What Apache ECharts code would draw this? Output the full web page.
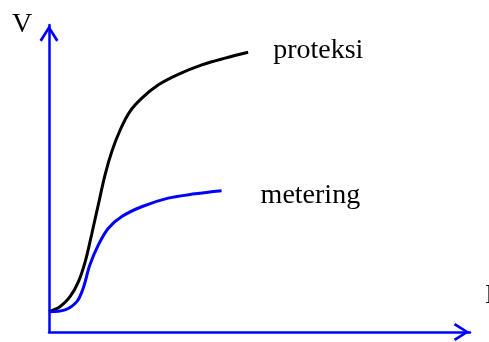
<!DOCTYPE html>
<html>
<head>
<meta charset="utf-8">
<script src="https://cdn.jsdelivr.net/npm/echarts@6/dist/echarts.min.js"></script>
<style>
  html, body { margin: 0; padding: 0; background: #fff; }
  #chart { width: 489px; height: 342px; }
</style>
</head>
<body>
<div id="chart"></div>
<script>
// values, I and V on a 0..100 scale
var proteksiI = [0, 2.6, 5.0, 7.0, 8.6, 10.1, 11.7, 13.3, 14.9, 16.9, 19.2, 22.0, 26.0, 30.7, 36.3, 41.8, 47.3];
var proteksiV = [6.6, 8.2, 11.5, 16.4, 22.9, 31.6, 41.4, 51.1, 58.7, 65.8, 71.8, 76.1, 80.5, 83.9, 87.0, 89.2, 91.1];
var meteringI = [0, 3.8, 6.6, 8.1, 9.7, 11.7, 14.1, 17.3, 22.0, 28.3, 34.7, 41.0];
var meteringV = [6.6, 7.2, 9.9, 14.2, 21.8, 28.3, 33.8, 37.6, 40.8, 43.6, 45.0, 46.0];

function pairs(xs, ys) {
  var out = [];
  for (var i = 0; i < xs.length; i++) {
    out.push([xs[i], ys[i]]);
  }
  return out;
}

// open chevron used as the axis arrow head (points up before rotation)
var chevron = "path://M0,15.5 L10,0 L20,15.5 L17.6,17.5 L10,5 L2.4,17.5 Z";
var blue = "#0000ff";
var font = "28px 'Liberation Serif', 'Times New Roman', serif";

var dom = echarts.init(document.getElementById("chart"));
var option = {
  animation: false,
  grid: { left: 49, right: 19, top: 25, bottom: 10 },
  xAxis: {
    type: "value",
    min: 0,
    max: 100,
    axisLine: {
      lineStyle: { color: blue, width: 2.5 },
      symbol: ["none", chevron],
      symbolSize: [18, 17],
      symbolOffset: [0, -8.5]
    },
    axisTick: { show: false },
    axisLabel: { show: false },
    splitLine: { show: false }
  },
  yAxis: {
    type: "value",
    min: 0,
    max: 100,
    axisLine: {
      lineStyle: { color: blue, width: 2.5 },
      symbol: ["none", chevron],
      symbolSize: [19, 17],
      symbolOffset: [0, -8.5]
    },
    axisTick: { show: false },
    axisLabel: { show: false },
    splitLine: { show: false }
  },
  graphic: [
    {
      type: "text",
      style: { text: "V", x: 12, y: 25, font: font, fill: "#000", verticalAlign: "middle" }
    },
    {
      type: "text",
      style: { text: "I", x: 485, y: 296, font: font, fill: "#000", verticalAlign: "middle" }
    }
  ],
  series: [
    {
      name: "proteksi",
      type: "line",
      smooth: 0.35,
      symbol: "none",
      lineStyle: { color: "#000", width: 3 },
      endLabel: {
        show: true,
        formatter: "{a}",
        distance: 25,
        offset: [0, -2],
        color: "#000",
        fontFamily: "Liberation Serif",
        fontSize: 28
      },
      data: pairs(proteksiI, proteksiV)
    },
    {
      name: "metering",
      type: "line",
      smooth: 0.35,
      symbol: "none",
      lineStyle: { color: blue, width: 3 },
      endLabel: {
        show: true,
        formatter: "{a}",
        distance: 39,
        offset: [0, 5],
        color: "#000",
        fontFamily: "Liberation Serif",
        fontSize: 28
      },
      data: pairs(meteringI, meteringV)
    }
  ]
};
dom.setOption(option);
</script>
</body>
</html>
